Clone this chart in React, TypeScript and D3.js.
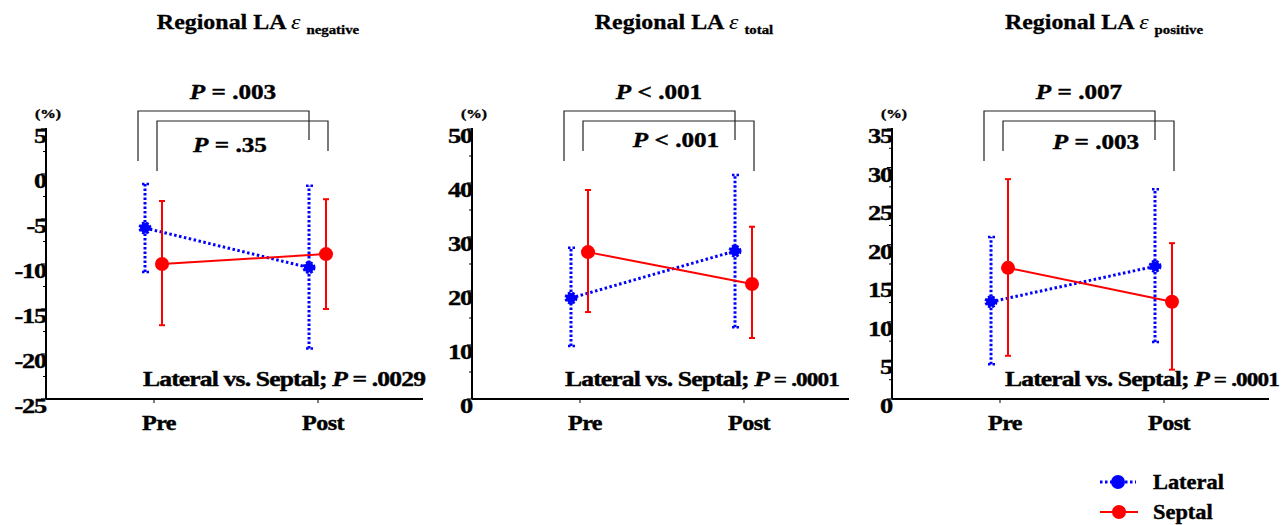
import React from "react";
import { scaleLinear, scalePoint, line, range } from "d3";

// x categories
const groups = ["Pre", "Post"];

// panel titles (subscripts)
const titleSubs = ["negative", "total", "positive"];

// y-axis domains and tick labels
const yDomains = [[-25, 5], [0, 50], [0, 35]];
const yTicks = [
  [-25, -20, -15, -10, -5, 0, 5],
  [0, 10, 20, 30, 40, 50],
  [0, 5, 10, 15, 20, 25, 30, 35],
];

// Lateral (blue, dotted)
const lateralMean = [[-6, -10.4], [18.7, 27.4], [12.6, 17.2]];
const lateralLow = [[-10.9, -19.4], [9.8, 13.3], [4.5, 7.4]];
const lateralHigh = [[-1.1, -1.3], [28, 41.5], [21, 27.2]];

// Septal (red, solid)
const septalMean = [[-10, -8.9], [27.2, 21.3], [17, 12.6]];
const septalLow = [[-16.8, -15], [16.1, 11.3], [5.6, 3.8]];
const septalHigh = [[-3, -2.8], [38.7, 31.9], [28.5, 20.2]];

// p-value annotations
const outerP = [["=", ".003"], ["<", ".001"], ["=", ".007"]];
const innerP = [["=", ".35"], ["<", ".001"], ["=", ".003"]];
const overallP = [".0029", ".0001", ".0001"];

const FONT = "'Liberation Serif', 'Times New Roman', serif";
const BLUE = "#0000ff";
const RED = "#ff0000";

// layout of each panel
const panelX = [46, 472, 892];
const innerLegs = [[171, 151], [151, 171], [151, 171]];
const innerPY = [152, 147, 149];
const overallX = [97, 93, 113];
const TOP = 129;
const BOTTOM = 399;

const Stretch = ({ x, y, sx = 1.18, children, anchor = "middle", size = 20, ...rest }: any) => (
  <g transform={`translate(${x},${y}) scale(${sx},1)`}>
    <text
      textAnchor={anchor}
      fontFamily={FONT}
      fontWeight="bold"
      fontSize={size}
      stroke="#000"
      strokeWidth={0.4}
      {...rest}
    >
      {children}
    </text>
  </g>
);

const Panel = ({ i }: { i: number }) => {
  const ax = panelX[i];
  const x = scalePoint<string>().domain(groups).range([ax + 108, ax + 272]);
  const y = scaleLinear().domain(yDomains[i]).range([BOTTOM, TOP]);
  const step = yTicks[i][1] - yTicks[i][0];
  const minor = range(yDomains[i][0] + step / 2, yDomains[i][1], step);

  const latX = (g: string) => (x(g) as number) - 9;
  const sepX = (g: string) => (x(g) as number) + 8;

  const latLine = line<number>()
    .x((_, k) => latX(groups[k]))
    .y((d) => y(d));
  const sepLine = line<number>()
    .x((_, k) => sepX(groups[k]))
    .y((d) => y(d));

  const pre = x("Pre") as number;
  const post = x("Post") as number;
  const mid = (pre + post) / 2;

  return (
    <g>
      {/* title */}
      <Stretch x={mid + 22} y={29} size={21} sx={1.14} strokeWidth={0.3}>
        Regional LA{" "}
        <tspan fontWeight="normal" fontStyle="italic" fontSize={21} strokeWidth={0}>
          ε
        </tspan>{" "}
        <tspan fontSize={13} dy={5}>
          {titleSubs[i]}
        </tspan>
      </Stretch>

      {/* brackets */}
      <path
        d={`M${pre - 16},161V111H${post - 9}V140`}
        fill="none"
        stroke="#222"
        strokeWidth={1.2}
      />
      <path
        d={`M${pre + 3},${innerLegs[i][0]}V121H${post + 10}V${innerLegs[i][1]}`}
        fill="none"
        stroke="#222"
        strokeWidth={1.2}
      />
      <Stretch x={mid - 3} y={99} size={21} sx={1.2}>
        <tspan fontStyle="italic">P</tspan> {outerP[i][0]} {outerP[i][1]}
      </Stretch>
      <Stretch x={mid + (i === 0 ? -6 : 14)} y={innerPY[i]} size={21} sx={1.2}>
        <tspan fontStyle="italic">P</tspan> {innerP[i][0]} {innerP[i][1]}
      </Stretch>

      {/* y axis */}
      <line x1={ax} x2={ax} y1={TOP - 1} y2={BOTTOM} stroke="#000" strokeWidth={2} />
      {yTicks[i].map((t) => (
        <g key={t}>
          <line x1={ax - 5} x2={ax} y1={y(t)} y2={y(t)} stroke="#000" strokeWidth={1.2} />
          <Stretch x={ax} y={y(t) + 14} anchor="end" size={22} sx={1.2} letterSpacing={-1}>
            {t}
          </Stretch>
        </g>
      ))}
      {minor.map((t) => (
        <line key={t} x1={ax - 3} x2={ax} y1={y(t)} y2={y(t)} stroke="#000" strokeWidth={1} />
      ))}
      <Stretch x={ax + 2} y={TOP - 11} size={13} sx={1.2}>
        (%)
      </Stretch>

      {/* x axis */}
      <line x1={ax} x2={ax + 377} y1={BOTTOM} y2={BOTTOM} stroke="#000" strokeWidth={2} />
      {groups.map((g) => (
        <g key={g}>
          <line x1={x(g)} x2={x(g)} y1={BOTTOM} y2={BOTTOM + 4} stroke="#000" strokeWidth={1} />
          <Stretch x={(x(g) as number) + 5} y={BOTTOM + 31} size={21} sx={1.15} letterSpacing={-0.5}>
            {g}
          </Stretch>
        </g>
      ))}

      {/* lateral */}
      {groups.map((g, k) => (
        <g key={"l" + g}>
          <line
            x1={latX(g)}
            x2={latX(g)}
            y1={y(lateralLow[i][k])}
            y2={y(lateralHigh[i][k])}
            stroke={BLUE}
            strokeWidth={3}
            strokeDasharray="2.5,2"
          />
          {[lateralLow[i][k], lateralHigh[i][k]].map((v, m) => (
            <line
              key={m}
              x1={latX(g) - 3}
              x2={latX(g) + 4}
              y1={y(v)}
              y2={y(v)}
              stroke={BLUE}
              strokeWidth={2.5}
              strokeDasharray="2.5,2"
            />
          ))}
        </g>
      ))}
      <path d={latLine(lateralMean[i]) || ""} fill="none" stroke={BLUE} strokeWidth={3} strokeDasharray="2.5,2.5" />
      {groups.map((g, k) => (
        <circle
          key={"lm" + g}
          cx={latX(g)}
          cy={y(lateralMean[i][k])}
          r={5}
          fill={BLUE}
          stroke={BLUE}
          strokeWidth={3}
          strokeDasharray="2.5,1.5"
        />
      ))}

      {/* septal */}
      {groups.map((g, k) => (
        <g key={"s" + g}>
          <line
            x1={sepX(g)}
            x2={sepX(g)}
            y1={y(septalLow[i][k])}
            y2={y(septalHigh[i][k])}
            stroke={RED}
            strokeWidth={2}
          />
          {[septalLow[i][k], septalHigh[i][k]].map((v, m) => (
            <line key={m} x1={sepX(g) - 3} x2={sepX(g) + 3} y1={y(v)} y2={y(v)} stroke={RED} strokeWidth={2} />
          ))}
        </g>
      ))}
      <path d={sepLine(septalMean[i]) || ""} fill="none" stroke={RED} strokeWidth={2} />
      {groups.map((g, k) => (
        <circle key={"sm" + g} cx={sepX(g)} cy={y(septalMean[i][k])} r={7} fill={RED} />
      ))}

      {/* overall comparison */}
      <Stretch x={ax + overallX[i]} y={386} anchor="start" size={21} sx={1.22} letterSpacing={-0.7}>
        Lateral vs. Septal;{" "}
        <tspan fontStyle="italic">P</tspan>
        <tspan fontSize={i === 0 ? 21 : 19}> = {overallP[i]}</tspan>
      </Stretch>
    </g>
  );
};

export default function App() {
  return (
    <svg
      width={1288}
      height={525}
      style={{ position: "absolute", left: 0, top: 0, background: "#fff" }}
    >
      {[0, 1, 2].map((i) => (
        <Panel key={i} i={i} />
      ))}

      {/* legend */}
      <g>
        <line x1={1100} x2={1136} y1={482} y2={482} stroke={BLUE} strokeWidth={3} strokeDasharray="2.5,2.5" />
        <circle cx={1118} cy={482} r={7} fill={BLUE} />
        <Stretch x={1153} y={489} anchor="start" size={20} sx={1.12}>
          Lateral
        </Stretch>
        <line x1={1100} x2={1138} y1={512} y2={512} stroke={RED} strokeWidth={2} />
        <circle cx={1119} cy={512} r={7} fill={RED} />
        <Stretch x={1153} y={519} anchor="start" size={20} sx={1.12}>
          Septal
        </Stretch>
      </g>
    </svg>
  );
}
